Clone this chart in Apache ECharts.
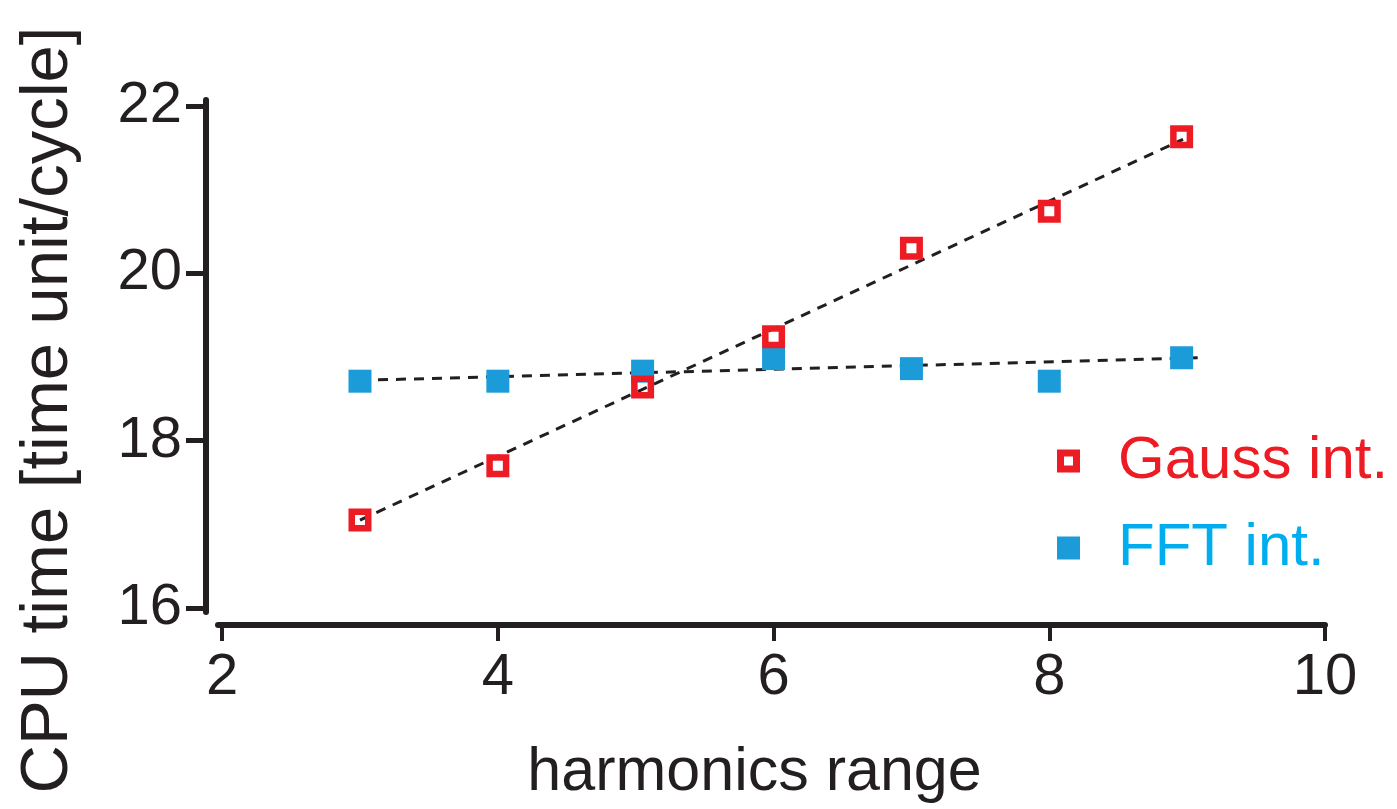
<!DOCTYPE html>
<html>
<head>
<meta charset="utf-8">
<script src="https://cdn.jsdelivr.net/npm/echarts@6/dist/echarts.min.js"></script>
<style>
html,body{margin:0;padding:0;background:#fff;}
#main{width:1397px;height:809px;}
</style>
</head>
<body>
<div id="main"></div>
<script>
// values
var harmonics = [3, 4, 5.05, 6, 7, 8, 8.96];
var gaussTime = [17.05, 17.70, 18.64, 19.24, 20.30, 20.74, 21.63];
var fftTime = [18.71, 18.71, 18.83, 18.98, 18.86, 18.71, 18.99];
// dashed fit lines, end points as drawn
var gaussFit = [[3, 17.05], [8.97, 21.60]];
var fftFit = [[3, 18.72], [9.1, 18.99]];
var xTicks = [2, 4, 6, 8, 10];
var yTicks = [16, 18, 20, 22];

var ink = '#231f20';
var red = '#ed1c24';
var blue = '#1b9cd8';
var font = 'Liberation Sans, Arial, sans-serif';

function pairs(xs, ys) {
	return xs.map(function (x, i) { return [x, ys[i]]; });
}

var myChart = echarts.init(document.getElementById('main'));
var option = {
	animation: false,
	grid: { left: 218, right: 72, top: 100, bottom: 197, outerBoundsMode: 'none' },
	legend: {
		orient: 'vertical',
		left: 1052,
		top: 426,
		itemWidth: 23,
		itemHeight: 23,
		itemGap: 27,
		data: [
			{
				name: 'Gauss int.',
				icon: 'path://M0,0H23V23H0Z M7,7V16H16V7Z',
				itemStyle: { color: red, borderWidth: 0 },
				textStyle: { color: red }
			},
			{ name: 'FFT int.', icon: 'rect', textStyle: { color: '#00aeef' } }
		],
		textStyle: { fontFamily: font, fontSize: 60, lineHeight: 60, padding: [0, 0, 0, 33] }
	},
	xAxis: {
		type: 'value',
		min: 1.97,
		max: 10,
		offset: 13,
		splitLine: { show: false },
		axisLine: { lineStyle: { color: ink, width: 6 } },
		axisTick: { customValues: xTicks, length: 16, lineStyle: { color: ink, width: 4 } },
		axisLabel: { customValues: xTicks, margin: 24, color: ink, fontFamily: font, fontSize: 58 },
		name: 'harmonics range',
		nameLocation: 'middle',
		nameGap: 118,
		nameTextStyle: { color: ink, fontFamily: font, fontSize: 61, padding: [0, 34, 0, 0] }
	},
	yAxis: {
		type: 'value',
		min: 15.952,
		max: 22.07,
		offset: 12,
		splitLine: { show: false },
		axisLine: { lineStyle: { color: ink, width: 6 } },
		axisTick: { customValues: yTicks, length: 20, lineStyle: { color: ink, width: 5 } },
		axisLabel: { customValues: yTicks, margin: 24, color: ink, fontFamily: font, fontSize: 58 },
		name: 'CPU time [time unit/cycle]',
		nameLocation: 'middle',
		nameGap: 124,
		nameTextStyle: { color: ink, fontFamily: font, fontSize: 67, padding: [0, 108, 0, 0] }
	},
	series: [
		{
			name: 'fft fit',
			type: 'line',
			symbol: 'none',
			data: fftFit,
			lineStyle: { color: ink, width: 3, type: [10, 8] },
			z: 1
		},
		{
			name: 'gauss fit',
			type: 'line',
			symbol: 'none',
			data: gaussFit,
			lineStyle: { color: ink, width: 3, type: [10, 8] },
			z: 1
		},
		{
			name: 'FFT int.',
			type: 'scatter',
			symbol: 'rect',
			symbolSize: 23,
			data: pairs(harmonics, fftTime),
			itemStyle: { color: blue, opacity: 1 },
			z: 2
		},
		{
			name: 'Gauss int.',
			type: 'scatter',
			symbol: 'rect',
			symbolSize: 16.5,
			data: pairs(harmonics, gaussTime),
			itemStyle: { color: 'rgba(255,255,255,0)', borderColor: red, borderWidth: 6.5, opacity: 1 },
			z: 3
		}
	]
};
myChart.setOption(option);
</script>
</body>
</html>
